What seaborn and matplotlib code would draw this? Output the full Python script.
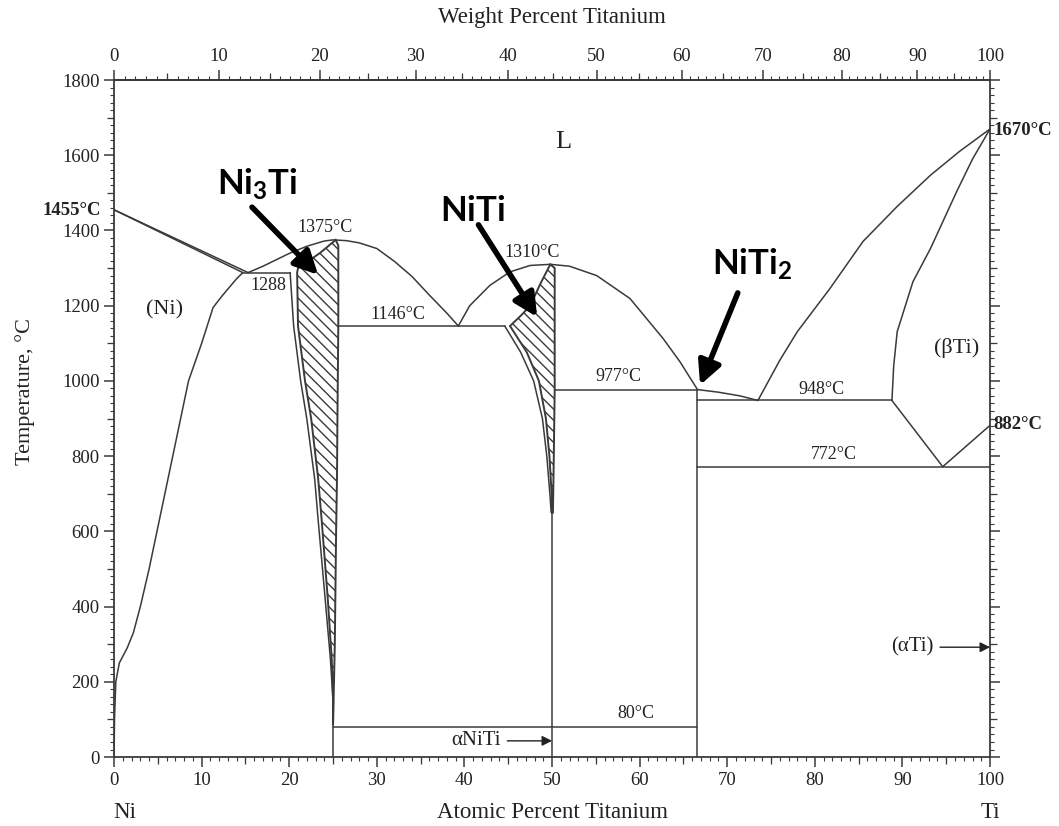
import numpy as np
import matplotlib
matplotlib.use('Agg')
import matplotlib.pyplot as plt
from matplotlib.ticker import MultipleLocator
import seaborn as sns

# phase boundaries (x = atomic % Ti, T = deg C)
ni_liq_x = [0, 15.3]
ni_liq_T = [1455, 1288]
ni_sol_x = [0, 14.7]
ni_sol_T = [1455, 1288]
ni_solvus_x = [14.7, 14.0, 13.2, 12.3, 11.3, 10.0, 8.5, 7.6, 6.7, 5.8, 4.9, 4.0, 3.0, 2.2, 1.5, 0.6, 0.2, 0.05, 0]
ni_solvus_T = [1288, 1272, 1250, 1225, 1195, 1100, 1000, 900, 800, 700, 600, 500, 400, 330, 290, 250, 200, 100, 0]

dome1_x = [15.3, 17, 18.5, 20, 22, 24, 25, 26.5, 28, 30, 32, 34, 36, 38, 39.3]
dome1_T = [1288, 1305, 1322, 1339, 1358, 1372, 1375, 1373, 1367, 1352, 1318, 1278, 1228, 1180, 1146]
dome2_x = [39.3, 40.6, 42.9, 45.2, 47.5, 49.8, 52, 55.1, 58.9, 62.7, 64.6, 66.6]
dome2_T = [1146, 1200, 1254, 1290, 1307, 1310, 1305, 1280, 1219, 1112, 1051, 977]
niti2_liq_x = [66.6, 69, 71.5, 73.5]
niti2_liq_T = [977, 970, 960, 948]
ti_liq_x = [73.5, 76, 78, 81.7, 85.5, 89.4, 93.2, 96.5, 100]
ti_liq_T = [948, 1055, 1131, 1245, 1371, 1464, 1547, 1610, 1670]
bti_x = [88.8, 89.0, 89.4, 91.2, 93.2, 96.2, 98, 100]
bti_T = [948, 1040, 1131, 1264, 1352, 1504, 1590, 1670]
bti_low_x = [88.8, 94.6, 100]
bti_low_T = [948, 772, 882]

ni3ti_outer_x = [20.1, 20.5, 21.3, 22.0, 22.9, 23.3, 24.1, 24.7, 25.0]
ni3ti_outer_T = [1288, 1146, 1000, 900, 740, 630, 420, 260, 150]
ni3ti_x = [25.3, 23.5, 21.0, 20.9, 21.0, 21.8, 22.5, 23.3, 23.7, 24.4, 24.85, 25.0, 25.0,
           25.2, 25.35, 25.45, 25.5, 25.6, 25.6, 25.6]
ni3ti_T = [1375, 1340, 1300, 1288, 1146, 1000, 900, 740, 630, 420, 260, 150, 85,
           300, 600, 740, 900, 1146, 1340, 1360]

niti_outer_x = [44.6, 46.4, 47.9, 48.9, 49.4, 49.75, 49.9]
niti_outer_T = [1146, 1077, 1000, 900, 800, 700, 650]
niti_x = [45.2, 46.5, 47.5, 48.7, 49.8, 50.3, 50.3, 50.3, 50.2, 50.1, 50.0,
          49.95, 49.7, 49.3, 48.5, 47.1, 45.2]
niti_T = [1146, 1175, 1200, 1260, 1310, 1300, 1146, 977, 800, 650, 650,
          700, 800, 900, 1000, 1077, 1146]

# isotherms (T, x from, x to) and line compounds (x, T from, T to)
iso_T = [1288, 1146, 977, 948, 772, 80]
iso_x0 = [14.7, 25.6, 50.3, 66.6, 66.6, 25.0]
iso_x1 = [20.1, 44.6, 66.6, 88.8, 100, 66.6]
vert_x = [25.0, 50.0, 66.6]
vert_T0 = [0, 0, 0]
vert_T1 = [150, 650, 977]

# top axis: weight percent from atomic percent
M_TI, M_NI = 47.867, 58.693


def at2wt(a):
    a = np.asarray(a, dtype=float)
    return 100 * a * M_TI / (a * M_TI + (100 - a) * M_NI)


def wt2at(w):
    w = np.asarray(w, dtype=float)
    return 100 * (w / M_TI) / (w / M_TI + (100 - w) / M_NI)


sns.set_theme(style="white")
plt.rcParams['font.family'] = ['Liberation Serif', 'DejaVu Serif']
plt.rcParams['mathtext.fontset'] = 'custom'
plt.rcParams['mathtext.bf'] = 'Lato:bold'
plt.rcParams['mathtext.rm'] = 'Lato'
plt.rcParams['hatch.linewidth'] = 1.0

LC = '#3a3a3a'
TC = '#222222'
LW = 1.1

fig = plt.figure(figsize=(10.59, 8.26), dpi=100)
ax = fig.add_axes([0.1077, 0.0835, 0.8272, 0.8196])

curves = [(ni_liq_x, ni_liq_T), (ni_sol_x, ni_sol_T), (ni_solvus_x, ni_solvus_T),
          (dome1_x, dome1_T), (dome2_x, dome2_T), (niti2_liq_x, niti2_liq_T),
          (ti_liq_x, ti_liq_T), (bti_x, bti_T), (bti_low_x, bti_low_T),
          (ni3ti_outer_x, ni3ti_outer_T), (niti_outer_x, niti_outer_T)]
for cx, cy in curves:
    sns.lineplot(x=cx, y=cy, sort=False, estimator=None, color=LC, lw=LW, ax=ax)

for t, x0, x1 in zip(iso_T, iso_x0, iso_x1):
    sns.lineplot(x=[x0, x1], y=[t, t], sort=False, estimator=None, color=LC, lw=LW, ax=ax)
for x, t0, t1 in zip(vert_x, vert_T0, vert_T1):
    sns.lineplot(x=[x, x], y=[t0, t1], sort=False, estimator=None, color=LC, lw=LW, ax=ax)

# hatched intermetallic regions
ax.fill(ni3ti_x, ni3ti_T, facecolor='white', edgecolor=LC, hatch='\\\\\\', lw=1.4)
ax.fill(niti_x, niti_T, facecolor='white', edgecolor=LC, hatch='\\\\\\', lw=1.4)

ax.set_xlim(0, 100)
ax.set_ylim(0, 1800)
ax.set_xticks(range(0, 101, 10))
ax.set_yticks(range(0, 1801, 200))
ax.xaxis.set_minor_locator(MultipleLocator(1))
ax.yaxis.set_minor_locator(MultipleLocator(20))
ax.tick_params(axis='both', which='both', direction='out', colors=LC, labelcolor=TC,
               labelsize=13.5, bottom=True, left=True, right=True, top=False, labelright=False)
ax.tick_params(which='major', length=7, width=1.1)
ax.tick_params(which='minor', length=3, width=0.8)
for s in ax.spines.values():
    s.set_color(LC)
    s.set_linewidth(1.3)

sec = ax.secondary_xaxis('top', functions=(at2wt, wt2at))
sec.set_xticks(range(0, 101, 10))
sec.xaxis.set_minor_locator(MultipleLocator(1))
sec.tick_params(which='both', direction='out', colors=LC, labelcolor=TC, labelsize=13.5)
sec.tick_params(which='major', length=7, width=1.1)
sec.tick_params(which='minor', length=3, width=0.8)

# medium ticks at the half-decades
mid_b = ax.secondary_xaxis('bottom')
mid_b.set_xticks(range(5, 100, 10), labels=[])
mid_t = ax.secondary_xaxis('top', functions=(at2wt, wt2at))
mid_t.set_xticks(range(5, 100, 10), labels=[])
mid_l = ax.secondary_yaxis('left')
mid_l.set_yticks(range(100, 1800, 200), labels=[])
mid_r = ax.secondary_yaxis('right')
mid_r.set_yticks(range(100, 1800, 200), labels=[])
for m in (mid_b, mid_t, mid_l, mid_r):
    m.tick_params(direction='out', length=5, width=0.9, colors=LC)
    for s in m.spines.values():
        s.set_visible(False)

ax.set_ylabel('Temperature, °C', fontsize=16, color=TC)
ax.yaxis.set_label_coords(-0.09, 0.54)

txt = dict(color=TC, ha='center', va='center')
ax.text(50, 1965, 'Weight Percent Titanium', fontsize=16.5, clip_on=False, **txt)
ax.text(50, -148, 'Atomic Percent Titanium', fontsize=16.5, clip_on=False, **txt)
ax.text(1.2, -148, 'Ni', fontsize=16.5, clip_on=False, **txt)
ax.text(100, -148, 'Ti', fontsize=16.5, clip_on=False, **txt)

ax.text(51.3, 1635, 'L', fontsize=19, **txt)
ax.text(5.8, 1189, '(Ni)', fontsize=16, **txt)
ax.text(96.2, 1087, '(βTi)', fontsize=16, **txt)
ax.text(24.1, 1408, '1375°C', fontsize=13, **txt)
ax.text(17.6, 1255, '1288', fontsize=13, **txt)
ax.text(32.4, 1176, '1146°C', fontsize=13, **txt)
ax.text(47.7, 1342, '1310°C', fontsize=13, **txt)
ax.text(57.6, 1012, '977°C', fontsize=13, **txt)
ax.text(80.8, 977, '948°C', fontsize=13, **txt)
ax.text(82.2, 805, '772°C', fontsize=13, **txt)
ax.text(59.6, 116, '80°C', fontsize=13, **txt)

ax.text(-1.5, 1452, '1455°C', fontsize=13.5, fontweight='bold', color=TC,
        ha='right', va='center', clip_on=False)
ax.text(100.4, 1667, '1670°C', fontsize=13.5, fontweight='bold', color=TC,
        ha='left', va='center', clip_on=False)
ax.text(100.4, 883, '882°C', fontsize=13.5, fontweight='bold', color=TC,
        ha='left', va='center', clip_on=False)

ax.annotate('αNiTi', xy=(50, 43), xytext=(44.2, 43), fontsize=15, color=TC,
            ha='right', va='center',
            arrowprops=dict(arrowstyle='-|>', color=TC, lw=1.0, mutation_scale=15,
                            shrinkA=2, shrinkB=0))
ax.annotate('(αTi)', xy=(100, 292), xytext=(93.6, 292), fontsize=15, color=TC,
            ha='right', va='center',
            arrowprops=dict(arrowstyle='-|>', color=TC, lw=1.0, mutation_scale=15,
                            shrinkA=2, shrinkB=0))

# bold phase call-outs with arrows
big = dict(fontsize=25, color='black', ha='center', va='center')
ax.text(16.4, 1521, r'$\mathbf{Ni_3Ti}$', **big)
ax.text(41.0, 1449, r'$\mathbf{NiTi}$', **big)
ax.text(72.8, 1308, r'$\mathbf{NiTi_2}$', **big)
arrow = dict(arrowstyle='-|>,head_length=0.5,head_width=0.25', color='black', lw=4,
             mutation_scale=28, shrinkA=0, shrinkB=0)
ax.annotate('', xy=(23.3, 1282), xytext=(15.75, 1462), arrowprops=arrow)
ax.annotate('', xy=(48.3, 1170), xytext=(41.6, 1415), arrowprops=arrow)
ax.annotate('', xy=(66.9, 989), xytext=(71.2, 1234), arrowprops=arrow)

fig.savefig('out.png', dpi=100, facecolor='white')
